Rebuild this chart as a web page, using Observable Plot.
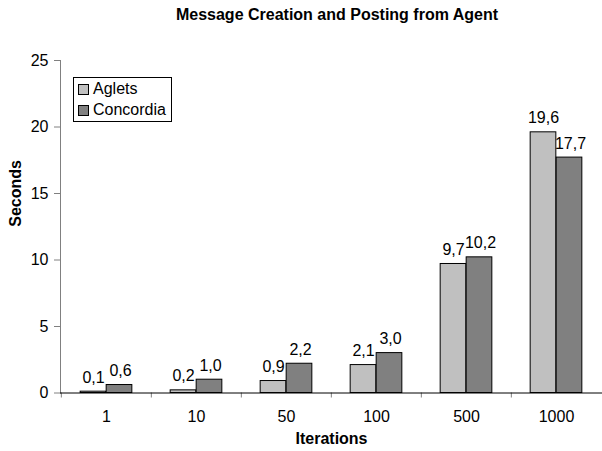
<!DOCTYPE html>
<html>
<head>
<meta charset="utf-8">
<script src="https://cdn.jsdelivr.net/npm/d3@7"></script>
<script src="https://cdn.jsdelivr.net/npm/@observablehq/plot@0.6"></script>
<style>
  html, body { margin: 0; padding: 0; background: #fff; overflow: hidden; }
  #wrap { position: relative; width: 602px; height: 451px; font-family: "Liberation Sans", Arial, sans-serif; }
  #title { position: absolute; top: 7px; left: 337px; transform: translateX(-50%); white-space: nowrap;
           font-size: 16px; line-height: 16px; font-weight: bold; color: #000; }
  #legend { position: absolute; left: 73px; top: 77px; width: 97px; height: 43px; border: 1px solid #000; background: #fff; }
  .item { position: absolute; left: 4px; height: 20px; font-size: 16px; line-height: 20px; color: #000; white-space: nowrap; }
  .sw { display: inline-block; width: 9px; height: 9px; border: 1px solid #000; margin-right: 4px; vertical-align: -1px; }
</style>
</head>
<body>
<div id="wrap">
  <div id="title"></div>
  <div id="legend"></div>
</div>
<script>
const titleText = "Message Creation and Posting from Agent";
const iterations = ["1", "10", "50", "100", "500", "1000"];
const series = ["Aglets", "Concordia"];
const aglets = [0.1, 0.2, 0.9, 2.1, 9.7, 19.6];
const concordia = [0.6, 1.0, 2.2, 3.0, 10.2, 17.7];
const colors = ["#c0c0c0", "#808080"];
const yTicks = [0, 5, 10, 15, 20, 25];
const xLabel = "Iterations";
const yLabel = "Seconds";

const fmt = d => d.toFixed(1).replace(".", ",");
const dataA = iterations.map((it, i) => ({it, v: aglets[i]}));
const dataC = iterations.map((it, i) => ({it, v: concordia[i]}));

const W = 602, H = 451, mL = 60, mR = 0;
const band = (W - mL - mR) / iterations.length;
const half = band / 2;
const bw = 26;

const font = "Liberation Sans, Arial, sans-serif";

const chart = Plot.plot({
  width: W,
  height: H,
  marginLeft: mL,
  marginRight: mR,
  marginTop: 60,
  marginBottom: 58.5,
  style: {fontFamily: font, fontSize: "16px", color: "#000", background: "#fff"},
  x: {domain: iterations, padding: 0},
  y: {domain: [0, 25]},
  marks: [
    Plot.barY(dataA, {x: "it", y: "v", fill: colors[0], stroke: "#000", strokeWidth: 1, insetLeft: half - bw, insetRight: half}),
    Plot.barY(dataC, {x: "it", y: "v", fill: colors[1], stroke: "#000", strokeWidth: 1, insetLeft: half, insetRight: half - bw}),
    Plot.text(dataA, {x: "it", y: "v", text: d => fmt(d.v), dx: -bw / 2, dy: -9, lineAnchor: "bottom", fill: "#000", fontSize: 16}),
    Plot.text(dataC, {x: "it", y: "v", text: d => fmt(d.v), dx: bw / 2 + 1, dy: -9, lineAnchor: "bottom", fill: "#000", fontSize: 16}),
    Plot.axisY({ticks: yTicks, tickSize: 6, tickPadding: 6, label: null, stroke: "#808080", fill: "#000", fontSize: 16}),
    Plot.frame({anchor: "left", stroke: "#808080"}),
    Plot.axisX({tickSize: 0, tickPadding: 18, label: null, fill: "#000", fontSize: 16}),
    Plot.axisX({tickSize: 5, tickFormat: () => "", label: null, dx: -half, stroke: "#808080"}),
    Plot.ruleY([0], {stroke: "#000"}),
    Plot.text([yLabel], {frameAnchor: "left", rotate: -90, dx: -45, fontWeight: "bold", fontSize: 16, fill: "#000"}),
    Plot.text([xLabel], {frameAnchor: "bottom", dy: 51, fontWeight: "bold", fontSize: 16, fill: "#000"})
  ]
});

document.getElementById("wrap").insertBefore(chart, document.getElementById("title"));
document.getElementById("title").textContent = titleText;

const legend = document.getElementById("legend");
series.forEach((s, i) => {
  const item = document.createElement("div");
  item.className = "item";
  item.style.top = (1 + i * 21) + "px";
  const sw = document.createElement("span");
  sw.className = "sw";
  sw.style.background = colors[i];
  item.appendChild(sw);
  item.appendChild(document.createTextNode(s));
  legend.appendChild(item);
});
</script>
</body>
</html>
